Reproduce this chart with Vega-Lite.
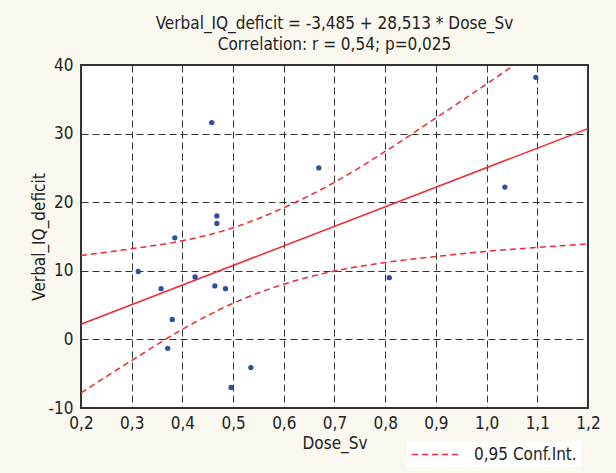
{
  "$schema": "https://vega.github.io/schema/vega-lite/v6.json",
  "width": 507,
  "height": 343,
  "autosize": {"type": "none"},
  "padding": {"left": 81, "top": 65, "right": 28, "bottom": 65},
  "background": "#fbf8ef",
  "title": {
    "text": ["Verbal_IQ_deficit = -3,485 + 28,513 * Dose_Sv", "Correlation: r = 0,54; p=0,025"],
    "anchor": "middle",
    "frame": "group",
    "fontSize": 17,
    "fontWeight": "normal",
    "font": "Liberation Sans Narrow, DejaVu Sans Condensed, sans-serif",
    "color": "#222222",
    "lineHeight": 21,
    "baseline": "bottom",
    "offset": -15
  },
  "config": {
    "view": {"fill": "white", "stroke": "#333333", "strokeWidth": 2},
    "axis": {
      "labelFont": "Liberation Sans Narrow, DejaVu Sans Condensed, sans-serif",
      "titleFont": "Liberation Sans Narrow, DejaVu Sans Condensed, sans-serif",
      "labelFontSize": 17,
      "titleFontSize": 17,
      "titleFontWeight": "normal",
      "labelColor": "#222222",
      "titleColor": "#222222",
      "labelFlush": false,
      "domain": false,
      "ticks": false,
      "gridColor": "#333333",
      "gridDash": [7, 4],
      "gridWidth": 1,
      "gridOpacity": 1
    }
  },
  "datasets": {
    "points": [
      {"Dose_Sv": 0.313, "Verbal_IQ_deficit": 9.9},
      {"Dose_Sv": 0.358, "Verbal_IQ_deficit": 7.4},
      {"Dose_Sv": 0.371, "Verbal_IQ_deficit": -1.3},
      {"Dose_Sv": 0.380, "Verbal_IQ_deficit": 2.9},
      {"Dose_Sv": 0.385, "Verbal_IQ_deficit": 14.8},
      {"Dose_Sv": 0.425, "Verbal_IQ_deficit": 9.1},
      {"Dose_Sv": 0.458, "Verbal_IQ_deficit": 31.6},
      {"Dose_Sv": 0.464, "Verbal_IQ_deficit": 7.8},
      {"Dose_Sv": 0.468, "Verbal_IQ_deficit": 18.0},
      {"Dose_Sv": 0.468, "Verbal_IQ_deficit": 16.9},
      {"Dose_Sv": 0.485, "Verbal_IQ_deficit": 7.4},
      {"Dose_Sv": 0.496, "Verbal_IQ_deficit": -7.0},
      {"Dose_Sv": 0.535, "Verbal_IQ_deficit": -4.1},
      {"Dose_Sv": 0.669, "Verbal_IQ_deficit": 25.0},
      {"Dose_Sv": 0.808, "Verbal_IQ_deficit": 9.0},
      {"Dose_Sv": 1.036, "Verbal_IQ_deficit": 22.2},
      {"Dose_Sv": 1.097, "Verbal_IQ_deficit": 38.2}
    ],
    "fit": [
      {"Dose_Sv": 0.2, "Verbal_IQ_deficit": 2.218},
      {"Dose_Sv": 1.2, "Verbal_IQ_deficit": 30.731}
    ],
    "band": [
      {"label": "0,95 Conf.Int.", "side": "upper", "Dose_Sv": 0.2, "Verbal_IQ_deficit": 12.22},
      {"label": "0,95 Conf.Int.", "side": "upper", "Dose_Sv": 0.3, "Verbal_IQ_deficit": 13.22},
      {"label": "0,95 Conf.Int.", "side": "upper", "Dose_Sv": 0.4, "Verbal_IQ_deficit": 14.37},
      {"label": "0,95 Conf.Int.", "side": "upper", "Dose_Sv": 0.5, "Verbal_IQ_deficit": 16.27},
      {"label": "0,95 Conf.Int.", "side": "upper", "Dose_Sv": 0.6, "Verbal_IQ_deficit": 19.2},
      {"label": "0,95 Conf.Int.", "side": "upper", "Dose_Sv": 0.7, "Verbal_IQ_deficit": 22.9},
      {"label": "0,95 Conf.Int.", "side": "upper", "Dose_Sv": 0.8, "Verbal_IQ_deficit": 27.4},
      {"label": "0,95 Conf.Int.", "side": "upper", "Dose_Sv": 0.9, "Verbal_IQ_deficit": 32.28},
      {"label": "0,95 Conf.Int.", "side": "upper", "Dose_Sv": 1.0, "Verbal_IQ_deficit": 37.23},
      {"label": "0,95 Conf.Int.", "side": "upper", "Dose_Sv": 1.1, "Verbal_IQ_deficit": 42.33},
      {"label": "0,95 Conf.Int.", "side": "upper", "Dose_Sv": 1.2, "Verbal_IQ_deficit": 47.53},
      {"label": "0,95 Conf.Int.", "side": "lower", "Dose_Sv": 0.2, "Verbal_IQ_deficit": -7.78},
      {"label": "0,95 Conf.Int.", "side": "lower", "Dose_Sv": 0.3, "Verbal_IQ_deficit": -3.08},
      {"label": "0,95 Conf.Int.", "side": "lower", "Dose_Sv": 0.4, "Verbal_IQ_deficit": 1.47},
      {"label": "0,95 Conf.Int.", "side": "lower", "Dose_Sv": 0.5, "Verbal_IQ_deficit": 5.27},
      {"label": "0,95 Conf.Int.", "side": "lower", "Dose_Sv": 0.6, "Verbal_IQ_deficit": 8.05},
      {"label": "0,95 Conf.Int.", "side": "lower", "Dose_Sv": 0.7, "Verbal_IQ_deficit": 9.97},
      {"label": "0,95 Conf.Int.", "side": "lower", "Dose_Sv": 0.8, "Verbal_IQ_deficit": 11.2},
      {"label": "0,95 Conf.Int.", "side": "lower", "Dose_Sv": 0.9, "Verbal_IQ_deficit": 12.08},
      {"label": "0,95 Conf.Int.", "side": "lower", "Dose_Sv": 1.0, "Verbal_IQ_deficit": 12.83},
      {"label": "0,95 Conf.Int.", "side": "lower", "Dose_Sv": 1.1, "Verbal_IQ_deficit": 13.4},
      {"label": "0,95 Conf.Int.", "side": "lower", "Dose_Sv": 1.2, "Verbal_IQ_deficit": 13.93}
    ]
  },
  "encoding": {
    "x": {
      "field": "Dose_Sv",
      "type": "quantitative",
      "title": "Dose_Sv",
      "scale": {"domain": [0.2, 1.2], "nice": false, "zero": false},
      "axis": {
        "values": [0.2, 0.3, 0.4, 0.5, 0.6, 0.7, 0.8, 0.9, 1.0, 1.1, 1.2],
        "labelExpr": "replace(format(datum.value, '.1f'), '.', ',')",
        "labelPadding": 7,
        "titlePadding": 4
      }
    },
    "y": {
      "field": "Verbal_IQ_deficit",
      "type": "quantitative",
      "title": "Verbal_IQ_deficit",
      "scale": {"domain": [-10, 40], "nice": false, "zero": false},
      "axis": {
        "values": [-10, 0, 10, 20, 30, 40],
        "labelExpr": "'' + datum.value",
        "labelPadding": 8,
        "titleX": -33
      }
    }
  },
  "layer": [
    {
      "data": {"name": "band"},
      "mark": {"type": "line", "strokeDash": [6, 4], "strokeWidth": 1.5, "interpolate": "monotone", "clip": true},
      "encoding": {
        "detail": {"field": "side", "type": "nominal"},
        "color": {
          "field": "label",
          "type": "nominal",
          "scale": {"range": ["#ee2a2e"]},
          "legend": {
            "title": null,
            "orient": "none",
            "legendX": 326,
            "legendY": 377,
            "direction": "vertical",
            "fillColor": "white",
            "padding": 4,
            "clipHeight": 17,
            "symbolType": "stroke",
            "symbolSize": 2200,
            "symbolStrokeWidth": 1.5,
            "symbolDash": [6, 4],
            "labelFont": "Liberation Sans Narrow, DejaVu Sans Condensed, sans-serif",
            "labelFontSize": 17,
            "labelColor": "#222222",
            "labelOffset": 14
          }
        }
      }
    },
    {
      "data": {"name": "fit"},
      "mark": {"type": "line", "color": "#ee2a2e", "strokeWidth": 1.5},
      "encoding": {}
    },
    {
      "data": {"name": "points"},
      "mark": {"type": "circle", "color": "#2f4fa3", "opacity": 1, "size": 28},
      "encoding": {}
    }
  ]
}
